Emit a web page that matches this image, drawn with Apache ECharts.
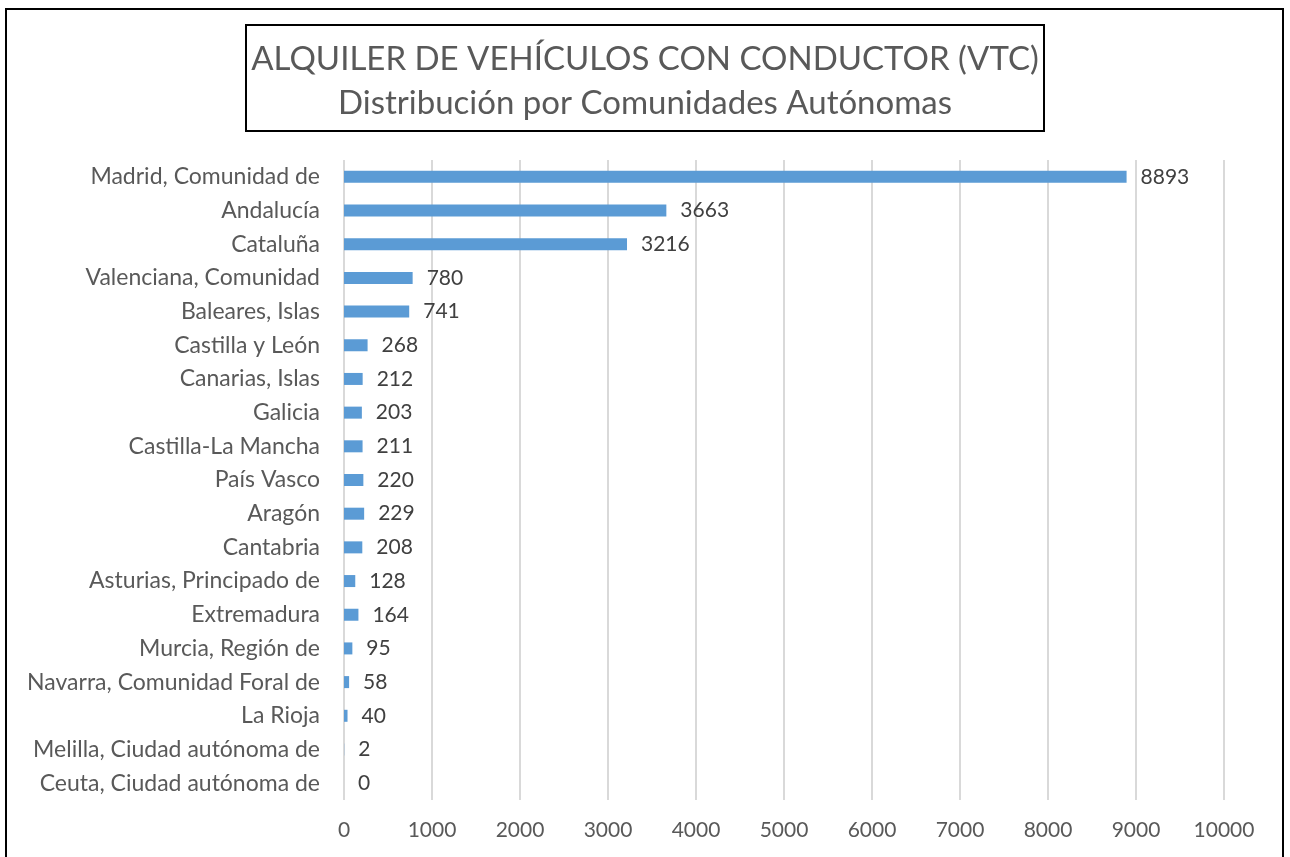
<!DOCTYPE html>
<html>
<head>
<meta charset="utf-8">
<script src="https://cdn.jsdelivr.net/npm/echarts@6/dist/echarts.min.js"></script>
<style>
  html, body { margin: 0; padding: 0; background: #fff; }
  #chart { width: 1290px; height: 857px; }
</style>
</head>
<body>
<div id="chart"></div>
<script>
// comunidades, de arriba abajo
var comunidades = [
    'Madrid, Comunidad de', 'Andalucía', 'Cataluña', 'Valenciana, Comunidad',
    'Baleares, Islas', 'Castilla y León', 'Canarias, Islas', 'Galicia',
    'Castilla-La Mancha', 'País Vasco', 'Aragón', 'Cantabria',
    'Asturias, Principado de', 'Extremadura', 'Murcia, Región de',
    'Navarra, Comunidad Foral de', 'La Rioja', 'Melilla, Ciudad autónoma de',
    'Ceuta, Ciudad autónoma de'
];
var autorizaciones = [8893, 3663, 3216, 780, 741, 268, 212, 203, 211, 220, 229, 208, 128, 164, 95, 58, 40, 2, 0];
var tituloLineas = ['ALQUILER DE VEHÍCULOS CON CONDUCTOR (VTC)', 'Distribución por Comunidades Autónomas'];

var fuente = 'Lato';
var myChart = echarts.init(document.getElementById('chart'));

var option = {
    animation: false,
    backgroundColor: '#fff',
    textStyle: { fontFamily: fuente },
    title: {
        text: tituloLineas.join('\n'),
        left: 'center',
        top: 25,
        padding: [12, 6, 6, 6],
        borderColor: '#000',
        borderWidth: 2,
        textStyle: {
            fontFamily: fuente,
            fontWeight: 'normal',
            fontSize: 33,
            lineHeight: 44,
            color: '#595959'
        }
    },
    // marco exterior
    graphic: [{
        type: 'rect',
        shape: { x: 6, y: 9, width: 1277, height: 870 },
        style: { fill: null, stroke: '#000', lineWidth: 2 },
        silent: true
    }],
    grid: { left: 344, right: 66, top: 160, bottom: 57 },
    xAxis: {
        type: 'value',
        min: 0,
        max: 10000,
        interval: 1000,
        axisLine: { show: false },
        axisTick: { show: false },
        axisLabel: {
            color: '#595959',
            fontSize: 21,
            margin: 20,
            formatter: function (v) { return String(v); }
        },
        splitLine: { show: true, lineStyle: { color: '#d9d9d9', width: 2 } }
    },
    yAxis: {
        type: 'category',
        inverse: true,
        data: comunidades,
        axisLine: { show: false },
        axisTick: { show: false },
        axisLabel: { color: '#595959', fontSize: 23, margin: 24 }
    },
    series: [{
        type: 'bar',
        data: autorizaciones,
        barWidth: 12,
        itemStyle: { color: '#5b9bd5' },
        label: {
            show: true,
            position: 'right',
            distance: 14,
            color: '#404040',
            fontSize: 21
        }
    }]
};
myChart.setOption(option);
</script>
</body>
</html>
